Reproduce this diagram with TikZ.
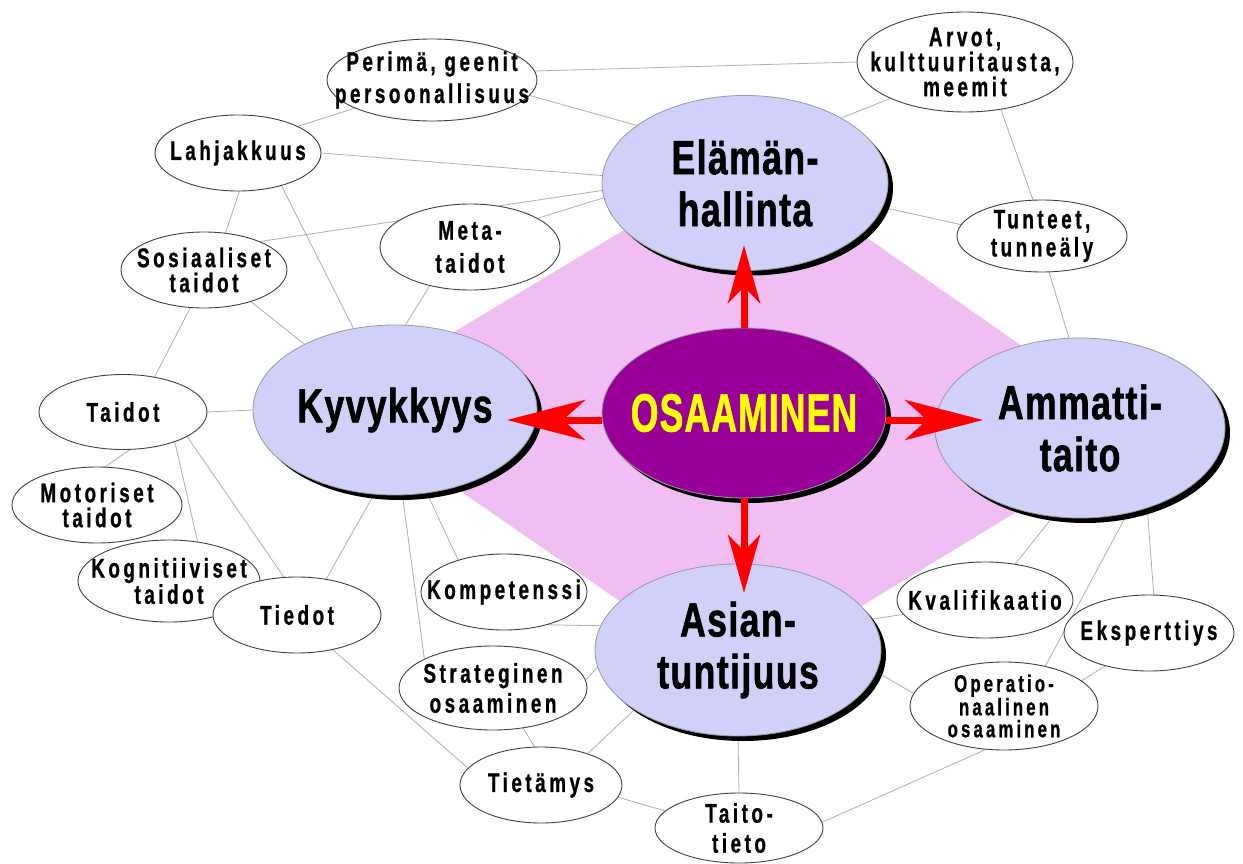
\documentclass[tikz,border=0pt]{standalone}
\usepackage{fontspec}
\usetikzlibrary{shapes.geometric,arrows.meta,shadows}
\newfontfamily\smallfont[FakeStretch=0.7,LetterSpace=13,FakeBold=0.8]{Liberation Sans Bold}
\newfontfamily\bigfont[FakeStretch=0.74,LetterSpace=3,FakeBold=1.2]{Liberation Sans Bold}
\newfontfamily\osafont[FakeStretch=0.66,LetterSpace=2,FakeBold=1]{Liberation Sans Bold}
\definecolor{lav}{RGB}{208,208,250}
\definecolor{pinkd}{RGB}{240,190,242}
\definecolor{purp}{RGB}{153,0,153}
\definecolor{linkgray}{RGB}{175,175,175}
\definecolor{yel}{RGB}{255,255,0}
\pgfdeclarelayer{bg}
\pgfdeclarelayer{links}
\pgfsetlayers{bg,links,main}
\begin{document}
\begin{tikzpicture}[x=1pt,y=-1pt,
  sm/.style={ellipse, draw=black!75, line width=0.9pt, fill=white, inner sep=0pt},
  st/.style={align=center, inner sep=0pt, font=\smallfont\fontsize{27}{#1}\selectfont},
  st/.default=27,
  bigell/.style={ellipse, draw=black!40, line width=0.8pt, fill=lav, inner sep=0pt,
     drop shadow={shadow xshift=5pt, shadow yshift=-5pt, fill=black, opacity=1}},
  bt/.style={align=center, inner sep=0pt, font=\bigfont\fontsize{48}{52}\selectfont},
  link/.style={draw=linkgray, line width=0.8pt},
  harrow/.style={draw=red, line width=7pt, -{Stealth[length=78pt,width=40pt,inset=22pt]}},
  varrow/.style={draw=red, line width=7pt, -{Stealth[length=58pt,width=32pt,inset=16pt]}}
]
\begin{pgfonlayer}{bg}
\fill[white] (0,0) rectangle (1243,864);
\fill[pinkd] (749,155) -- (1146,433) -- (737,682) -- (334,404) -- cycle;
\end{pgfonlayer}
\useasboundingbox (0,0) rectangle (1243,864);

% small ellipses
\node[sm, minimum width=210pt, minimum height=82pt, label={[st=32]center:{Perimä, geenit\\persoonallisuus}}] (per) at (432,80) {};
\node[sm, minimum width=216pt, minimum height=100pt, label={[st=25]center:{Arvot,\\kulttuuritausta,\\meemit}}] (arv) at (965,62) {};
\node[sm, minimum width=166pt, minimum height=76pt, label={[st=27]center:Lahjakkuus}] (lah) at (238,153) {};
\node[sm, minimum width=180pt, minimum height=86pt, label={[st=33]center:{Meta-\\taidot}}] (meta) at (470,247) {};
\node[sm, minimum width=166pt, minimum height=76pt, label={[st=25]center:{Sosiaaliset\\taidot}}] (sos) at (204,270) {};
\node[sm, minimum width=170pt, minimum height=72pt, label={[st=28]center:{Tunteet,\\tunneäly}}] (tun) at (1042,236) {};
\node[sm, minimum width=168pt, minimum height=75pt, label={[st=27]center:Taidot}] (tai) at (123,412) {};
\node[sm, minimum width=170pt, minimum height=76pt, label={[st=25]center:{Motoriset\\taidot}}] (mot) at (97,505) {};
\node[sm, minimum width=182pt, minimum height=82pt, label={[st=24]center:{Kognitiiviset\\taidot}}] (kog) at (169,581) {};
\node[sm, minimum width=168pt, minimum height=76pt, label={[st=27]center:Tiedot}] (tie) at (297,615) {};
\node[sm, minimum width=166pt, minimum height=76pt, label={[st=27]center:Kompetenssi}] (kom) at (504,592) {};
\node[sm, minimum width=188pt, minimum height=84pt, label={[st=30]center:{Strateginen\\osaaminen}}] (str) at (493,688) {};
\node[sm, minimum width=162pt, minimum height=76pt, label={[st=27]center:Tietämys}] (tiem) at (541,785) {};
\node[sm, minimum width=168pt, minimum height=70pt, label={[st=30]center:{Taito-\\tieto}}] (tt) at (739,828) {};
\node[sm, minimum width=176pt, minimum height=76pt, label={[st=27]center:Kvalifikaatio}] (kval) at (985,600) {};
\node[sm, minimum width=170pt, minimum height=76pt, label={[st=27]center:Eksperttiys}] (eks) at (1149,633) {};
\node[sm, minimum width=188pt, minimum height=88pt, label={[align=center, inner sep=0pt, font=\smallfont\fontsize{24}{22}\selectfont]center:{Operatio-\\naalinen\\osaaminen}}] (oper) at (1004,706) {};

% big ellipses
\node[bigell, minimum width=286pt, minimum height=175pt, label={[bt]center:{Elämän-\\hallinta}}] (ela) at (745,183) {};
\node[bigell, minimum width=284pt, minimum height=170pt, label={[bt]center:Kyvykkyys}] (kyv) at (395,410) {};
\node[bigell, minimum width=290pt, minimum height=180pt, label={[bt]center:{Ammatti-\\taito}}] (amm) at (1080,428) {};
\node[bigell, minimum width=286pt, minimum height=172pt, label={[bt]center:{Asian-\\tuntijuus}}] (asi) at (738,650) {};
\node[bigell, fill=purp, minimum width=284pt, minimum height=170pt, label={[inner sep=0pt, text=yel, font=\osafont\fontsize{54}{54}\selectfont]center:OSAAMINEN}] (osa) at (744,413) {};

% arrows
\coordinate (tipU) at (744,245);
\coordinate (tipD) at (744,593);
\coordinate (tipL) at (507,420);
\coordinate (tipR) at (983,420);
\draw[varrow] (osa.north) -- (tipU);
\draw[varrow] (osa.south) -- (tipD);
\draw[harrow] (osa.west |- tipL) -- (tipL);
\draw[harrow] (osa.east |- tipR) -- (tipR);

\begin{pgfonlayer}{links}
\draw[link] (per.5) -- (arv.180);
\draw[link] (per.-9) -- (ela.152);
\draw[link] (per.200) -- (lah.24);
\draw[link] (lah.0) -- (ela.177);
\draw[link] (lah.-88) -- (sos.60);
\draw[link] (lah.-37) -- (kyv.117);
\draw[link] (sos.27) -- (ela.183);
\draw[link] (meta.23) -- (ela.186);
\draw[link] (meta.224) -- (kyv.83);
\draw[link] (sos.-34) -- (kyv.144);
\draw[link] (sos.250) -- (tai.48);
\draw[link] (tai.0) -- (kyv.180);
\draw[link] (tai.-80) -- (mot.78);
\draw[link] (tai.-30) -- (kog.54);
\draw[link] (tai.-21) -- (tie.109);
\draw[link] (kyv.-104) -- (tie.51);
\draw[link] (kyv.-85) -- (str.157);
\draw[link] (kyv.-69) -- (kom.145);
\draw[link] (tie.-44) -- (tiem.167);
\draw[link] (kom.-37) -- (asi.170);
\draw[link] (str.5) -- (asi.187);
\draw[link] (str.-53) -- (tiem.100);
\draw[link] (tiem.34) -- (asi.210);
\draw[link] (tiem.-9) -- (tt.167);
\draw[link] (asi.-90) -- (tt.90);
\draw[link] (tt.4) -- (oper.-113);
\draw[link] (asi.13) -- (kval.190);
\draw[link] (asi.-9) -- (oper.172);
\draw[link] (amm.-107) -- (kval.50);
\draw[link] (amm.-61) -- (oper.44);
\draw[link] (amm.-50) -- (eks.83);
\draw[link] (eks.217) -- (oper.18);
\draw[link] (ela.34) -- (arv.206);
\draw[link] (arv.-53) -- (tun.104);
\draw[link] (ela.-10) -- (tun.172);
\draw[link] (tun.-79) -- (amm.97);
\end{pgfonlayer}
\end{tikzpicture}
\end{document}
